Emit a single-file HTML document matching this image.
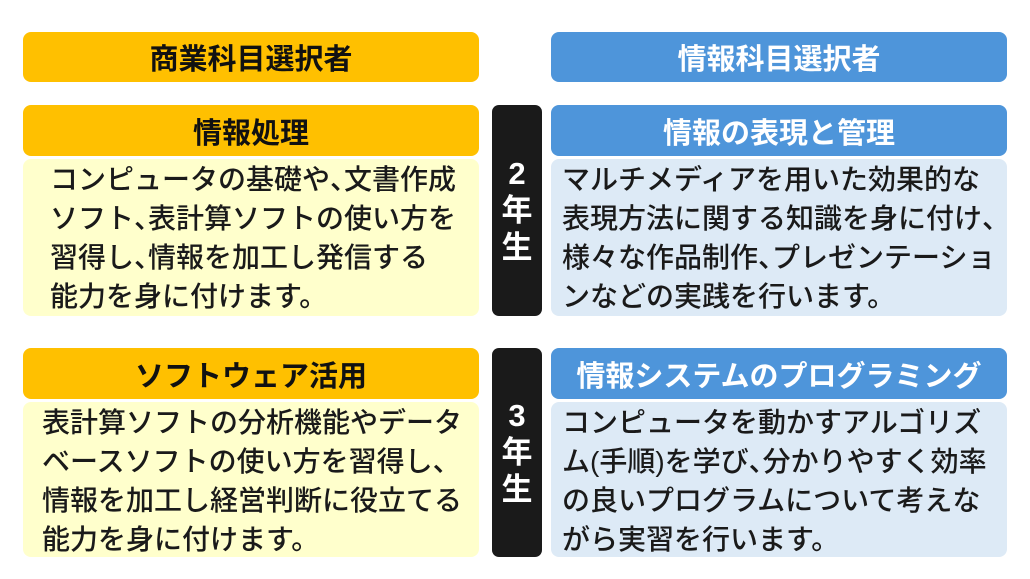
<!DOCTYPE html>
<html><head><meta charset="utf-8"><style>
*{margin:0;padding:0;box-sizing:border-box}
body{width:1030px;height:579px;background:#fff;position:relative;overflow:hidden;font-family:"Liberation Sans","Noto Sans CJK JP",sans-serif;font-weight:500}
.b{position:absolute;border-radius:8px}
.o{background:#FFC000;color:#111}
.bl{background:#4E95DA;color:#fff}
.y{background:#FFFFCC}
.lb{background:#DDEAF6}
.k{background:#1a1a1a;color:#fff;border-radius:7px}
.h{display:flex;align-items:center;justify-content:center;font-size:29px;font-weight:700}
.t{position:absolute;font-size:28px;line-height:39px;color:#1a1a1a;white-space:nowrap}
.c{letter-spacing:-0.5em}
.v{display:flex;flex-direction:column;align-items:center;justify-content:center;font-size:31px;font-weight:700;line-height:37px}
</style></head><body>
<div class="b o h" style="left:23px;top:32px;width:456px;height:50px">商業科目選択者</div>
<div class="b bl h" style="left:551px;top:32px;width:456px;height:50px">情報科目選択者</div>

<div class="b o h" style="left:23px;top:105px;width:456px;height:51px">情報処理</div>
<div class="b y" style="left:23px;top:159px;width:456px;height:157px"></div>
<div class="t" style="left:50px;top:160px">コンピュータの基礎や<span class="c">、</span>文書作成<br>ソフト<span class="c">、</span>表計算ソフトの使い方を<br>習得し<span class="c">、</span>情報を加工し発信する<br>能力を身に付けます。</div>

<div class="b k v" style="left:492px;top:105px;width:50px;height:211px"><span>2</span><span>年</span><span>生</span></div>

<div class="b bl h" style="left:551px;top:105px;width:456px;height:51px">情報の表現と管理</div>
<div class="b lb" style="left:551px;top:159px;width:456px;height:157px"></div>
<div class="t" style="left:562px;top:160px">マルチメディアを用いた効果的な<br>表現方法に関する知識を身に付け<span class="c">、</span><br>様々な作品制作<span class="c">、</span>プレゼンテーショ<br>ンなどの実践を行います。</div>

<div class="b o h" style="left:23px;top:348px;width:456px;height:51px">ソフトウェア活用</div>
<div class="b y" style="left:23px;top:402px;width:456px;height:155px"></div>
<div class="t" style="left:42px;top:403px">表計算ソフトの分析機能やデータ<br>ベースソフトの使い方を習得し<span class="c">、</span><br>情報を加工し経営判断に役立てる<br>能力を身に付けます。</div>

<div class="b k v" style="left:492px;top:348px;width:50px;height:209px"><span>3</span><span>年</span><span>生</span></div>

<div class="b bl h" style="left:551px;top:348px;width:456px;height:51px">情報システムのプログラミング</div>
<div class="b lb" style="left:551px;top:402px;width:456px;height:155px"></div>
<div class="t" style="left:562px;top:403px">コンピュータを動かすアルゴリズ<br>ム(手順)を学び<span class="c">、</span>分かりやすく効率<br>の良いプログラムについて考えな<br>がら実習を行います。</div>
</body></html>
